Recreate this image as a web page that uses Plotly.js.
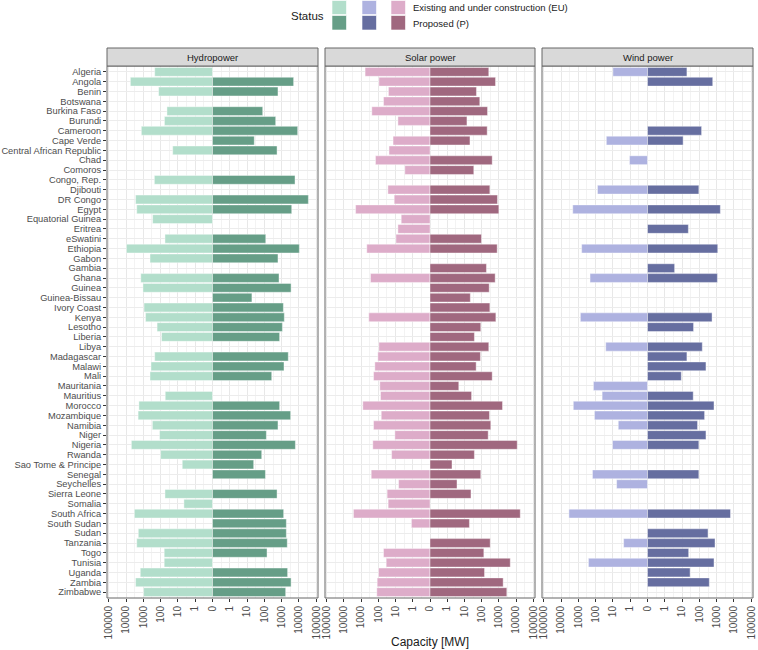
<!DOCTYPE html>
<html>
<head>
<meta charset="utf-8">
<script src="https://cdn.plot.ly/plotly-3.0.1.min.js"></script>
<style>html,body{margin:0;padding:0;background:#fff;}#chart{width:758px;height:650px;}</style>
</head>
<body>
<div id="chart"></div>
<script>
const countries = ["Algeria","Angola","Benin","Botswana","Burkina Faso","Burundi","Cameroon","Cape Verde","Central African Republic","Chad","Comoros","Congo, Rep.","Djibouti","DR Congo","Egypt","Equatorial Guinea","Eritrea","eSwatini","Ethiopia","Gabon","Gambia","Ghana","Guinea","Guinea-Bissau","Ivory Coast","Kenya","Lesotho","Liberia","Libya","Madagascar","Malawi","Mali","Mauritania","Mauritius","Morocco","Mozambique","Namibia","Niger","Nigeria","Rwanda","Sao Tome & Principe","Senegal","Seychelles","Sierra Leone","Somalia","South Africa","South Sudan","Sudan","Tanzania","Togo","Tunisia","Uganda","Zambia","Zimbabwe"];

// Capacity in MW (existing & under construction = EU, proposed = P)
const hydroEU = [220,5600,130,null,43,60,1300,null,20,null,null,230,null,2800,2400,290,null,56,9500,410,null,1400,1050,null,910,740,160,88,null,220,360,410,null,54,1800,2000,300,115,4900,100,5.6,null,null,56,4.5,3300,null,1950,2400,62,62,1500,2800,960];
const hydroP  = [null,4900,610,null,80,450,8400,26,540,null,null,5900,null,35000,3800,null,null,120,10500,610,null,700,3500,19,1250,1420,1100,760,null,2400,1360,265,null,null,760,3300,610,130,6200,70,24,115,null,540,null,1300,1860,1860,2100,142,null,2200,3500,1700];

const solarEU = [590,93,26,50,240,7.3,null,14,24,147,2.9,null,28,12,2100,4.7,7.3,9.5,470,null,null,285,null,null,null,360,null,null,93,107,160,190,82,75,800,68,190,11,210,17,null,260,6.7,31,27,2800,1.2,null,null,50,35,98,117,123];
const solarP  = [260,640,50,78,220,14,210,21,null,410,35,null,300,830,1000,null,null,98,800,null,190,610,275,22,300,670,89,38,260,85,48,410,4.7,26,1630,285,340,240,11700,38,1.9,89,3.7,24,null,17500,19.5,null,315,134,4600,147,1780,2900];

const windEU = [10,null,null,null,null,null,null,24,null,1.1,null,null,78,null,2100,null,null,null,640,null,null,210,null,null,null,760,null,null,26,null,null,null,134,42,1950,117,4.9,null,10.5,null,null,152,6.1,null,null,3500,null,null,2.4,null,260,null,null,null];
const windP  = [19,590,null,null,null,null,134,11.5,null,null,null,null,93,null,1630,null,23,null,1150,null,3.7,1100,null,null,null,540,46,null,147,19,240,9,null,44,700,200,78,240,93,null,null,93,null,null,null,6300,null,315,800,24,700,29,375,null];

const tickLabels = ["100000","10000","1000","100","10","1","0","1","10","100","1000","10000","100000"];
const tickPositions = [-6,-5,-4,-3,-2,-1,0,1,2,3,4,5,6];
const panels = ["Hydropower","Solar power","Wind power"];

const colors = {
  hydro: ["#b2decb", "#669e87"],
  solar: ["#ddacc9", "#a0687f"],
  wind:  ["#aeb2e0", "#666ea0"]
};

// pseudo-log transform used by the chart's axis: 0 -> 0, 1 -> 1, 10 -> 2, ...
function tf(v, side) {
  if (v === null || v === undefined) return null;
  return side * (Math.log10(v) + 1);
}

function mk(vals, side, color, xa, name) {
  return {
    type: "bar", orientation: "h",
    y: countries, x: vals.map(v => tf(v, side)),
    customdata: vals,
    hovertemplate: "%{y}: %{customdata} MW<extra>" + name + "</extra>",
    xaxis: xa, yaxis: "y",
    marker: {color: color, line: {color: "rgba(255,255,255,0.7)", width: 0.6}},
    width: 0.9, showlegend: false
  };
}

const data = [
  mk(hydroEU, -1, colors.hydro[0], "x", "Hydro EU"),
  mk(hydroP, 1, colors.hydro[1], "x", "Hydro P"),
  mk(solarEU, -1, colors.solar[0], "x2", "Solar EU"),
  mk(solarP, 1, colors.solar[1], "x2", "Solar P"),
  mk(windEU, -1, colors.wind[0], "x3", "Wind EU"),
  mk(windP, 1, colors.wind[1], "x3", "Wind P")
];

const FONT = "Liberation Sans, Arial, sans-serif";
const W = 758, H = 650, ML = 107, MR = 5, MT = 66, MB = 52;
const PW = W - ML - MR, PH = H - MT - MB;
const px = x => (x - ML) / PW;
const py = y => (H - MB - y) / PH;

const domains = [[px(107), px(318)], [px(325), px(535)], [px(542), px(753)]];
const halfs = [];
for (let i = -6; i < 6; i++) halfs.push(i + 0.5);

function xaxis(i) {
  return {
    domain: domains[i], anchor: "y", range: [-6.1, 6.1],
    tickmode: "array", tickvals: tickPositions, ticktext: tickLabels,
    tickangle: -90, ticks: "outside", ticklen: 3, tickcolor: "#333333",
    tickfont: {family: FONT, size: 10, color: "#4d4d4d"},
    showgrid: true, gridcolor: "#e8e8e8", gridwidth: 1,
    minor: {tickmode: "array", tickvals: halfs, showgrid: true, gridcolor: "#f3f3f3", gridwidth: 1, ticks: ""},
    zeroline: false, showline: false, fixedrange: true
  };
}

const shapes = [];
const annotations = [];
const xrefs = ["x", "x2", "x3"];
xrefs.forEach((xr, i) => {
  shapes.push({type: "rect", xref: xr + " domain", yref: "paper", x0: 0, x1: 1, y0: 0, y1: 1,
    line: {color: "#666666", width: 1}, fillcolor: "rgba(0,0,0,0)", layer: "above"});
  shapes.push({type: "rect", xref: xr + " domain", yref: "paper", x0: 0, x1: 1, y0: 1, y1: py(48),
    line: {color: "#666666", width: 1}, fillcolor: "#d9d9d9", layer: "above"});
  annotations.push({xref: xr + " domain", yref: "paper", x: 0.5, y: py(57.5), text: panels[i],
    showarrow: false, xanchor: "center", yanchor: "middle",
    font: {family: FONT, size: 9.5, color: "#1a1a1a"}});
});

// Legend (drawn manually to reproduce the 3x2 swatch layout)
const legCols = [[332, colors.hydro], [362, colors.wind], [391, colors.solar]];
legCols.forEach(([x, c]) => {
  shapes.push({type: "rect", xref: "paper", yref: "paper", x0: px(x), x1: px(x + 14.5), y0: py(0.5), y1: py(14.5),
    line: {color: "#ffffff", width: 0.6}, fillcolor: c[0]});
  shapes.push({type: "rect", xref: "paper", yref: "paper", x0: px(x), x1: px(x + 14.5), y0: py(15.5), y1: py(30),
    line: {color: "#ffffff", width: 0.6}, fillcolor: c[1]});
});
annotations.push({xref: "paper", yref: "paper", x: px(326), y: py(16), text: "Status", showarrow: false,
  xanchor: "right", yanchor: "middle", font: {family: FONT, size: 11.5, color: "#1a1a1a"}});
annotations.push({xref: "paper", yref: "paper", x: px(411), y: py(7.5), text: "Existing and under construction (EU)", showarrow: false,
  xanchor: "left", yanchor: "middle", font: {family: FONT, size: 9.5, color: "#1a1a1a"}});
annotations.push({xref: "paper", yref: "paper", x: px(411), y: py(23.5), text: "Proposed (P)", showarrow: false,
  xanchor: "left", yanchor: "middle", font: {family: FONT, size: 9.5, color: "#1a1a1a"}});
annotations.push({xref: "paper", yref: "paper", x: px(430), y: py(642), text: "Capacity [MW]", showarrow: false,
  xanchor: "center", yanchor: "middle", font: {family: FONT, size: 12, color: "#1a1a1a"}});

const layout = {
  width: W, height: H,
  margin: {l: ML, r: MR, t: MT, b: MB, pad: 0},
  paper_bgcolor: "#ffffff", plot_bgcolor: "#ffffff",
  barmode: "overlay", bargap: 0.1,
  showlegend: false,
  font: {family: FONT},
  xaxis: xaxis(0), xaxis2: xaxis(1), xaxis3: xaxis(2),
  yaxis: {
    type: "category", categoryorder: "array", categoryarray: countries,
    tickmode: "array", tickvals: countries, ticktext: countries,
    range: [53.6, -0.6], anchor: "x",
    ticks: "outside", ticklen: 3, tickcolor: "#333333",
    tickfont: {family: FONT, size: 9.3, color: "#4d4d4d"},
    showgrid: true, gridcolor: "#ececec", gridwidth: 1,
    zeroline: false, showline: false, fixedrange: true
  },
  shapes: shapes, annotations: annotations
};

Plotly.newPlot("chart", data, layout, {displayModeBar: false, staticPlot: true});
</script>
</body>
</html>
